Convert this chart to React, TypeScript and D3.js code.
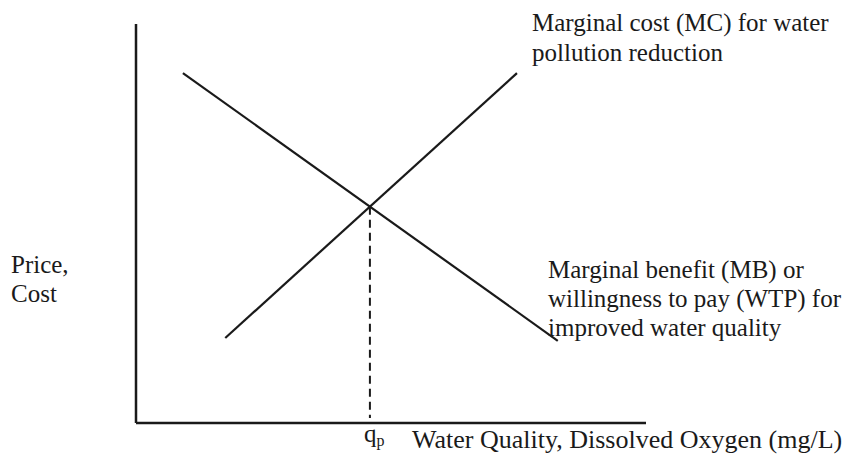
import React from "react";
import * as d3 from "d3";

// Curve endpoints in data units (quantity 0-100, price 0-100)
const mbQuantity = [9.2, 82.7];
const mbPrice = [87.7, 20.6];
const mcQuantity = [17.5, 74.7];
const mcPrice = [21.3, 87.7];

const mcLabel = ["Marginal cost (MC) for water", "pollution reduction"];
const mbLabel = ["Marginal benefit (MB) or", "willingness to pay (WTP) for", "improved water quality"];
const yLabel = ["Price,", "Cost"];
const xLabel = "Water Quality, Dissolved Oxygen (mg/L)";

const W = 845;
const H = 454;
const FONT = "'Liberation Serif', 'Times New Roman', serif";

export default function App() {
  const x = d3.scaleLinear().domain([0, 100]).range([136, 646]);
  const y = d3.scaleLinear().domain([0, 100]).range([423, 24]);

  const mb = mbQuantity.map((q, i) => [q, mbPrice[i]] as [number, number]);
  const mc = mcQuantity.map((q, i) => [q, mcPrice[i]] as [number, number]);

  // intersection of two lines
  const s1 = (mb[1][1] - mb[0][1]) / (mb[1][0] - mb[0][0]);
  const s2 = (mc[1][1] - mc[0][1]) / (mc[1][0] - mc[0][0]);
  const qp = (mc[0][1] - mb[0][1] + s1 * mb[0][0] - s2 * mc[0][0]) / (s1 - s2);
  const pp = mb[0][1] + s1 * (qp - mb[0][0]);

  const line = d3
    .line<[number, number]>()
    .x((d) => x(d[0]))
    .y((d) => y(d[1]));

  const ink = "#1a1a1a";
  const fs = 25;

  return (
    <svg width={W} height={H} style={{ position: "absolute", left: 0, top: 0, background: "#fff" }}>
      {/* axes */}
      <line x1={x(0)} y1={y(100)} x2={x(0)} y2={y(0)} stroke={ink} strokeWidth={2.5} />
      <line x1={x(0)} y1={y(0)} x2={x(100)} y2={y(0)} stroke={ink} strokeWidth={2.5} />
      {/* curves */}
      <path d={line(mb) || ""} fill="none" stroke={ink} strokeWidth={2.2} />
      <path d={line(mc) || ""} fill="none" stroke={ink} strokeWidth={2.2} />
      {/* dashed drop line */}
      <line
        x1={x(qp)}
        y1={y(pp)}
        x2={x(qp)}
        y2={y(0) - 5}
        stroke={ink}
        strokeWidth={2}
        strokeDasharray="8,5"
      />
      {/* labels */}
      <g fontFamily={FONT} fontSize={fs} fill={ink}>
        {mcLabel.map((t, i) => (
          <text key={t} x={532} y={31 + i * 30}>
            {t}
          </text>
        ))}
        {mbLabel.map((t, i) => (
          <text key={t} x={548} y={278 + i * 29}>
            {t}
          </text>
        ))}
        {yLabel.map((t, i) => (
          <text key={t} x={11} y={273 + i * 29}>
            {t}
          </text>
        ))}
        <text x={412} y={448} fontSize={26}>
          {xLabel}
        </text>
        <text x={x(qp) - 6} y={442}>
          q<tspan fontSize={16} dy={4}>p</tspan>
        </text>
      </g>
    </svg>
  );
}
